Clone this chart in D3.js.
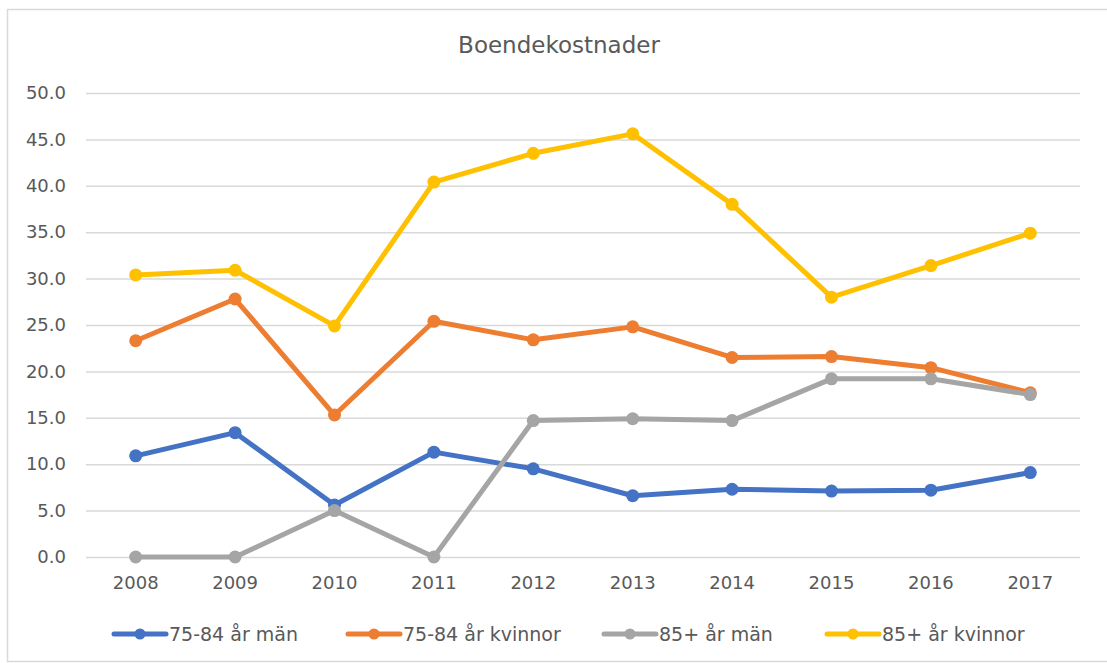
<!DOCTYPE html>
<html>
<head>
<meta charset="utf-8">
<style>
  body { margin: 0; background: #fff; }
  svg text { font-family: "DejaVu Sans", "Noto Sans", sans-serif; fill: #595959; }
</style>
</head>
<body>
<div id="chart"></div>
<script src="https://d3js.org/d3.v7.min.js"></script>
<script>
  // data
  const years = ["2008", "2009", "2010", "2011", "2012", "2013", "2014", "2015", "2016", "2017"];
  const man7584 = [10.9, 13.4, 5.6, 11.3, 9.5, 6.6, 7.3, 7.1, 7.2, 9.1];
  const kvinnor7584 = [23.3, 27.8, 15.3, 25.4, 23.4, 24.8, 21.5, 21.6, 20.4, 17.7];
  const man85 = [0.0, 0.0, 5.0, 0.0, 14.7, 14.9, 14.7, 19.2, 19.2, 17.5];
  const kvinnor85 = [30.4, 30.9, 24.9, 40.4, 43.5, 45.6, 38.0, 28.0, 31.4, 34.9];
  const yTicks = [0, 5, 10, 15, 20, 25, 30, 35, 40, 45, 50];

  const series = [
    { name: "75-84 år män", values: man7584, color: "#4472c4" },
    { name: "75-84 år kvinnor", values: kvinnor7584, color: "#ed7d31" },
    { name: "85+ år män", values: man85, color: "#a5a5a5" },
    { name: "85+ år kvinnor", values: kvinnor85, color: "#ffc000" }
  ];

  const width = 1107, height = 663;
  const plot = { left: 86, right: 1080, top: 93, bottom: 557 };

  const svg = d3.select("#chart").append("svg")
                .attr("width", width)
                .attr("height", height);

  // ram runt diagrammet
  svg.append("rect")
     .attr("x", 7.5).attr("y", 9.5)
     .attr("width", 1110).attr("height", 652)
     .attr("fill", "none")
     .attr("stroke", "#d9d9d9")
     .attr("stroke-width", 1.5);

  svg.append("text")
     .attr("x", 559).attr("y", 53)
     .attr("text-anchor", "middle")
     .style("font-size", "23px")
     .text("Boendekostnader");

  const xScale = d3.scaleBand()
                   .domain(years)
                   .range([plot.left, plot.right]);

  const yScale = d3.scaleLinear()
                   .domain([0, 50])
                   .range([plot.bottom, plot.top]);

  // rutnät + y-axel
  const yAxis = d3.axisLeft(yScale)
                  .tickValues(yTicks)
                  .tickSize(-(plot.right - plot.left))
                  .tickPadding(20)
                  .tickFormat(d3.format(".1f"));

  const yAxisGroup = svg.append("g")
                        .attr("transform", `translate(${plot.left},0)`)
                        .call(yAxis);
  yAxisGroup.select(".domain").remove();
  yAxisGroup.selectAll("line").attr("stroke", "#d9d9d9").attr("stroke-width", 1.5);
  yAxisGroup.selectAll("text").style("font-size", "18px").attr("fill", "#595959");

  // x-axel
  const xAxis = d3.axisBottom(xScale).tickSize(0).tickPadding(19);
  const xAxisGroup = svg.append("g")
                        .attr("transform", `translate(0,${plot.bottom})`)
                        .call(xAxis);
  xAxisGroup.select(".domain").remove();
  xAxisGroup.selectAll("text").style("font-size", "18px").attr("fill", "#595959");

  const cx = d => xScale(d) + xScale.bandwidth() / 2;

  const line = d3.line()
                 .x((d, i) => cx(years[i]))
                 .y(d => yScale(d));

  series.forEach(s => {
    svg.append("path")
       .datum(s.values)
       .attr("d", line)
       .attr("fill", "none")
       .attr("stroke", s.color)
       .attr("stroke-width", 5)
       .attr("stroke-linejoin", "round");

    svg.append("g")
       .selectAll("circle")
       .data(s.values)
       .join("circle")
       .attr("cx", (d, i) => cx(years[i]))
       .attr("cy", d => yScale(d))
       .attr("r", 6.5)
       .attr("fill", s.color);
  });

  // legend
  const legendX = [112, 346, 602, 825];
  const legendY = 634;
  const legend = svg.append("g");
  series.forEach((s, i) => {
    const g = legend.append("g").attr("transform", `translate(${legendX[i]},${legendY})`);
    g.append("line")
     .attr("x1", 2).attr("x2", 54)
     .attr("stroke", s.color)
     .attr("stroke-width", 5)
     .attr("stroke-linecap", "round");
    g.append("circle").attr("cx", 28).attr("r", 5.5).attr("fill", s.color);
    g.append("text")
     .attr("x", 57).attr("y", 7)
     .style("font-size", "19px")
     .text(s.name);
  });
</script>
</body>
</html>
